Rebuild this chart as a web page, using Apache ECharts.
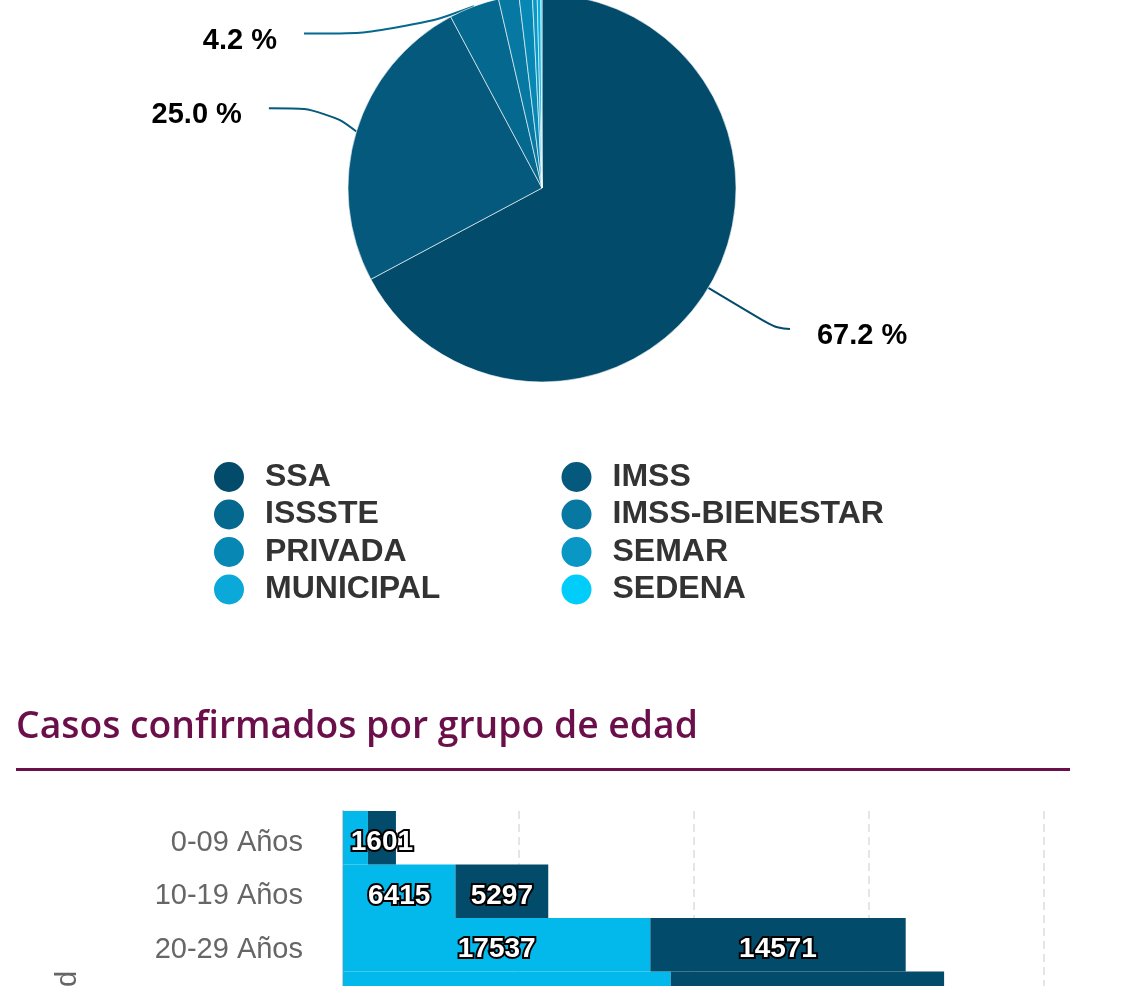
<!DOCTYPE html>
<html>
<head>
<meta charset="utf-8">
<script src="https://cdn.jsdelivr.net/npm/echarts@6/dist/echarts.min.js"></script>
<style>
  html, body { margin: 0; padding: 0; background: #fff; overflow: hidden; }
  #chart { position: absolute; left: 0; top: -200px; width: 1136px; height: 1700px; }
</style>
</head>
<body>
<div id="chart"></div>
<script>
// Institución notificante (porcentaje)
const institutions = ['SSA', 'IMSS', 'ISSSTE', 'IMSS-BIENESTAR', 'PRIVADA', 'SEMAR', 'MUNICIPAL', 'SEDENA'];
const institutionShare = [67.2, 25.0, 4.2, 1.7, 1.1, 0.4, 0.3, 0.1];
const institutionColors = ['#024b6b', '#04597c', '#05688e', '#0678a2', '#0788b4', '#0998c6', '#0aa9d9', '#00cdfa'];

// Casos confirmados por grupo de edad (solo los grupos visibles)
const ageGroups = ['0-09 Años', '10-19 Años', '20-29 Años', '30-39 Años'];
const casesLight = [1420, 6415, 17537, 18700];
const casesDark = [1601, 5297, 14571, 15600];

// label line tweaks per slice (style only)
const labelLineTweaks = {
  IMSS: { length2: 57 },
  ISSSTE: { length2: 142 },
};

const chart = echarts.init(document.getElementById('chart'));

const barLabel = {
  show: true,
  position: 'inside',
  formatter: '{v|{c}}',
  rich: {
    v: {
      color: '#fff',
      fontSize: 28,
      fontWeight: 'bold',
      fontFamily: 'Liberation Sans, Arial, sans-serif',
      textBorderColor: '#000',
      textBorderWidth: 4,
      padding: [10, 0, 0, 0],
    },
  },
};

const option = {
  animation: false,
  textStyle: { fontFamily: 'Liberation Sans, Arial, sans-serif' },
  color: institutionColors,
  title: {
    text: 'Casos confirmados por grupo de edad',
    left: 16,
    top: 909,
    padding: 0,
    textStyle: {
      fontFamily: 'Open Sans',
      fontWeight: 600,
      fontSize: 37.3,
      color: '#6b0f4a',
    },
  },
  graphic: [
    {
      type: 'rect',
      left: 16,
      top: 968,
      shape: { width: 1054, height: 3 },
      style: { fill: '#6b0f4a' },
    },
  ],
  legend: {
    data: institutions,
    left: 212,
    top: 660,
    width: 720,
    padding: 0,
    icon: 'circle',
    itemWidth: 62,
    itemHeight: 32,
    itemGap: 3.5,
    textStyle: {
      fontSize: 32,
      fontWeight: 'bold',
      color: '#333',
      width: 291,
      lineHeight: 32,
    },
  },
  grid: {
    left: 343,
    top: 1011,
    width: 701,
    height: 535,
  },
  xAxis: {
    type: 'value',
    min: 0,
    max: 40000,
    interval: 10000,
    axisLine: { show: false },
    axisTick: { show: false },
    axisLabel: { fontSize: 24, color: '#666' },
    splitLine: {
      lineStyle: { color: '#e5e5e5', width: 2, type: [8, 5] },
    },
  },
  yAxis: {
    type: 'category',
    inverse: true,
    data: ageGroups,
    max: 9,
    name: 'Grupo de edad',
    nameLocation: 'middle',
    nameGap: 261,
    nameTextStyle: { fontSize: 29, color: '#666', padding: [0, 0, 0, 22] },
    axisLine: { lineStyle: { color: '#ccc', width: 2 } },
    axisTick: { show: false },
    axisLabel: {
      margin: 40,
      formatter: (v) => '{a|' + v + '}',
      rich: {
        a: { fontSize: 29, color: '#666', padding: [10, 0, 0, 0] },
      },
    },
    splitLine: { show: false },
  },
  series: [
    {
      name: 'Institución',
      type: 'pie',
      left: 0,
      top: 211,
      width: 1136,
      height: 560,
      center: [542, 177],
      radius: 194,
      startAngle: 90,
      clockwise: true,
      minShowLabelAngle: 7,
      data: institutions.map((name, i) => ({
        name,
        value: institutionShare[i],
        labelLine: labelLineTweaks[name],
      })),
      itemStyle: { borderColor: '#fff', borderWidth: 0.6 },
      label: {
        formatter: (p) => '{p|' + p.percent.toFixed(1) + ' %}',
        distanceToLabelLine: 27,
        rich: {
          p: {
            fontSize: 29,
            fontWeight: 'bold',
            color: '#000',
            lineHeight: 34,
            padding: [14, 0, 0, 0],
          },
        },
      },
      labelLine: {
        length: 80,
        length2: 13,
        smooth: 0.5,
        lineStyle: { width: 2 },
      },
    },
    {
      name: 'Mujeres',
      type: 'bar',
      stack: 'total',
      data: casesLight,
      barCategoryGap: '0%',
      itemStyle: { color: '#03b8ea' },
      label: barLabel,
      labelLayout: { hideOverlap: true },
    },
    {
      name: 'Hombres',
      type: 'bar',
      stack: 'total',
      data: casesDark,
      barCategoryGap: '0%',
      itemStyle: { color: '#024b6b' },
      label: barLabel,
      labelLayout: { hideOverlap: true },
    },
  ],
};

chart.setOption(option);
</script>
</body>
</html>
